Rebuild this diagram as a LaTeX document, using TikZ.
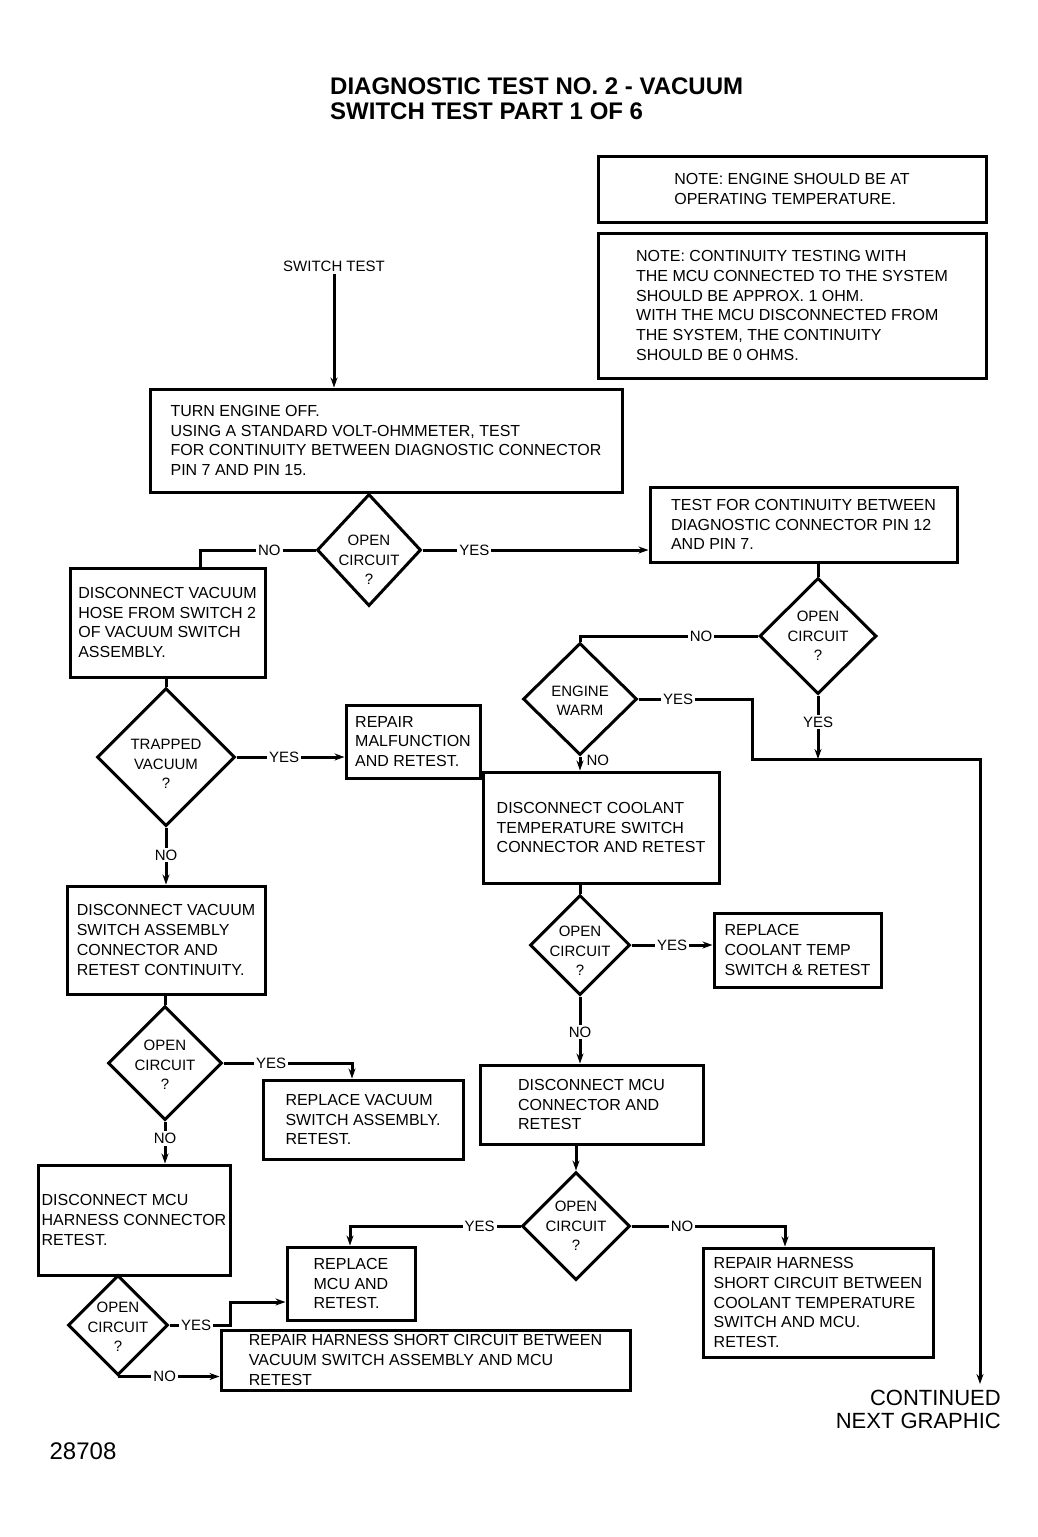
\documentclass[tikz,border=0pt]{standalone}
\usepackage{fontspec}
\setmainfont{Liberation Sans}
\usetikzlibrary{shapes.geometric,arrows.meta}

\begin{document}
\begin{tikzpicture}[x=1pt,y=-1pt,
	box/.style={draw,line width=3pt,align=left,inner sep=0pt,font=\fontsize{16}{19.7}\selectfont},
	dia/.style={draw,diamond,line width=3pt,inner sep=0pt},
	dtxt/.style={align=center,font=\fontsize{15}{19.5}\selectfont},
	lbl/.style={fill=white,inner sep=2pt,font=\fontsize{15}{18}\selectfont},
	wire/.style={line width=3pt},
	>={Stealth[length=10pt,width=7pt]}]
			          \useasboundingbox (0,0) rectangle (1037,1537);
			          %TITRE
			          \node[anchor=west,align=left,inner sep=0pt,font=\fontsize{24}{25}\selectfont\bfseries] (title) at (330,99) {DIAGNOSTIC TEST NO. 2 - VACUUM\\SWITCH TEST PART 1 OF 6};
			          %NOTES
			          \node[box,minimum width=388pt,minimum height=66pt] (noteTemp) at (792,189) {NOTE: ENGINE SHOULD BE AT\\OPERATING TEMPERATURE.};
			          \node[box,minimum width=388pt,minimum height=145pt] (noteOhm) at (792,305.5) {NOTE: CONTINUITY TESTING WITH\\THE MCU CONNECTED TO THE SYSTEM\\SHOULD BE APPROX. 1 OHM.\\WITH THE MCU DISCONNECTED FROM\\THE SYSTEM, THE CONTINUITY\\SHOULD BE 0 OHMS.};
			          %DEPART
			          \node[inner sep=2pt,font=\fontsize{15}{18}\selectfont] (st) at (334,266) {SWITCH TEST};
			          \node[box,minimum width=472pt,minimum height=103pt] (turnoff) at (386,440.5) {TURN ENGINE OFF.\\USING A STANDARD VOLT-OHMMETER, TEST\\FOR CONTINUITY BETWEEN DIAGNOSTIC CONNECTOR\\PIN 7 AND PIN 15.};
			          \node[dia,minimum width=104pt,minimum height=112pt,label={[dtxt,yshift=-10pt]center:OPEN\\CIRCUIT\\?}] (open1) at (369,550) {};
			          \draw[wire,->] (st.south) -- (st.south |- turnoff.north);
			          %COLONNE DROITE
			          \node[box,minimum width=307pt,minimum height=75pt] (pin12) at (803.5,524.5) {TEST FOR CONTINUITY BETWEEN\\DIAGNOSTIC CONNECTOR PIN 12\\AND PIN 7.};
			          \node[dia,minimum width=117pt,minimum height=116pt,label={[dtxt]center:OPEN\\CIRCUIT\\?}] (open2) at (818,636) {};
			          \node[dia,minimum width=114pt,minimum height=112pt,label={[dtxt,yshift=-2pt]center:ENGINE\\WARM}] (warm) at (580,699) {};
			          \node[box,minimum width=236pt,minimum height=111pt] (ctsconn) at (601,827.5) {DISCONNECT COOLANT\\TEMPERATURE SWITCH\\CONNECTOR AND RETEST};
			          \node[dia,minimum width=100pt,minimum height=100pt,label={[dtxt,yshift=-6pt]center:OPEN\\CIRCUIT\\?}] (open5) at (580,945) {};
			          \node[box,minimum width=167pt,minimum height=74pt] (replcts) at (797.5,950) {REPLACE\\COOLANT TEMP\\SWITCH \& RETEST};
			          \node[box,minimum width=223pt,minimum height=79pt] (mcuconn) at (591.5,1104.5) {DISCONNECT MCU\\CONNECTOR AND\\RETEST};
			          \node[dia,minimum width=108pt,minimum height=108pt,label={[dtxt]center:OPEN\\CIRCUIT\\?}] (open6) at (576,1226) {};
			          \node[box,minimum width=230pt,minimum height=109pt] (harncts) at (818,1302.5) {REPAIR HARNESS\\SHORT CIRCUIT BETWEEN\\COOLANT TEMPERATURE\\SWITCH AND MCU.\\RETEST.};
			          \node[anchor=north east,align=right,inner xsep=0pt,inner ysep=6pt,font=\fontsize{22}{23}\selectfont] (cont) at (1001,1384) {CONTINUED\\NEXT GRAPHIC};
			          %COLONNE GAUCHE
			          \node[box,minimum width=195pt,minimum height=109pt] (hose) at (167.5,622.5) {DISCONNECT VACUUM\\HOSE FROM SWITCH 2\\OF VACUUM SWITCH\\ASSEMBLY.};
			          \node[dia,minimum width=138pt,minimum height=138pt,label={[dtxt,yshift=-7pt]center:TRAPPED\\VACUUM\\?}] (trapped) at (166,757) {};
			          \node[box,minimum width=134pt,minimum height=73pt] (repair) at (413,741.5) {REPAIR\\MALFUNCTION\\AND RETEST.};
			          \node[box,minimum width=198pt,minimum height=108pt] (vsconn) at (166,940) {DISCONNECT VACUUM\\SWITCH ASSEMBLY\\CONNECTOR AND\\RETEST CONTINUITY.};
			          \node[dia,minimum width=114pt,minimum height=114pt,label={[dtxt,yshift=-2pt]center:OPEN\\CIRCUIT\\?}] (open3) at (165,1063) {};
			          \node[box,minimum width=200pt,minimum height=79pt] (replvs) at (363,1119.5) {REPLACE VACUUM\\SWITCH ASSEMBLY.\\RETEST.};
			          \node[box,minimum width=192pt,minimum height=110pt] (mcuharn) at (134,1220) {DISCONNECT MCU\\HARNESS CONNECTOR\\RETEST.};
			          \node[dia,minimum width=100pt,minimum height=100pt,label={[dtxt,yshift=-2pt]center:OPEN\\CIRCUIT\\?}] (open4) at (118,1325) {};
			          \node[box,minimum width=128pt,minimum height=73pt] (replmcu) at (351,1283.5) {REPLACE\\MCU AND\\RETEST.};
			          \node[box,minimum width=409pt,minimum height=60pt] (harnvs) at (425.5,1360) {REPAIR HARNESS SHORT CIRCUIT BETWEEN\\VACUUM SWITCH ASSEMBLY AND MCU\\RETEST};
			          \node[inner sep=0pt,font=\fontsize{24}{26}\selectfont] (fig) at (83,1451) {28708};
			          %LIAISONS
			          \coordinate (k1) at (200,550);
			          \draw[wire] (open1.west) -- node[lbl,pos=.4]{NO} (open1.west -| k1) -- (k1 |- hose.north);
			          \draw[wire,->] (open1.east) -- node[lbl,pos=.23]{YES} (open1.east -| pin12.west);
			          \draw[wire] (open2.north |- pin12.south) -- (open2.north);
			          \draw[wire] (open2.west) -- node[lbl,pos=.32]{NO} (open2.west -| warm.north) -- (warm.north);
			          \coordinate (k2) at (752,759);
			          \coordinate (k3) at (980,759);
			          \draw[wire,->] (warm.east) -- node[lbl,pos=.35]{YES} (warm.east -| k2) -- (k2) -- (k3) -- (k3 |- cont.north);
			          \draw[wire,->] (open2.south) -- node[lbl,pos=.42]{YES} (open2.south |- k3);
			          \draw[wire,->] (warm.south) -- node[right,pos=.3,inner sep=5pt,font=\fontsize{15}{18}\selectfont]{NO} (warm.south |- ctsconn.north);
			          \draw[wire] (open5.north |- ctsconn.south) -- (open5.north);
			          \draw[wire,->] (open5.east) -- node[lbl,pos=.5]{YES} (open5.east -| replcts.west);
			          \draw[wire,->] (open5.south) -- node[lbl,pos=.53]{NO} (open5.south |- mcuconn.north);
			          \draw[wire,->] (open6.north |- mcuconn.south) -- (open6.north);
			          \coordinate (k6) at (350,1226);
			          \coordinate (k7) at (785,1226);
			          \draw[wire,->] (open6.west) -- node[lbl,pos=.24]{YES} (open6.west -| k6) -- (k6 |- replmcu.north);
			          \draw[wire,->] (open6.east) -- node[lbl,pos=.33]{NO} (open6.east -| k7) -- (k7 |- harncts.north);
			          \draw[wire] (trapped.north |- hose.south) -- (trapped.north);
			          \draw[wire,->] (trapped.east) -- node[lbl,pos=.44]{YES} (trapped.east -| repair.west);
			          \draw[wire,->] (trapped.south) -- node[lbl,pos=.48]{NO} (trapped.south |- vsconn.north);
			          \draw[wire] (open3.north |- vsconn.south) -- (open3.north);
			          \coordinate (k4) at (352,1063);
			          \draw[wire,->] (open3.east) -- node[lbl,pos=.37]{YES} (open3.east -| k4) -- (k4 |- replvs.north);
			          \draw[wire,->] (open3.south) -- node[lbl,pos=.4]{NO} (open3.south |- mcuharn.north);
			          \coordinate (k5) at (230,1302);
			          \draw[wire,->] (open4.east) -- node[lbl,pos=.44]{YES} (open4.east -| k5) -- (k5) -- (k5 -| replmcu.west);
			          \draw[wire,->] (open4.south) -- node[lbl,pos=.46]{NO} (open4.south -| harnvs.west);
\end{tikzpicture}
\end{document}
